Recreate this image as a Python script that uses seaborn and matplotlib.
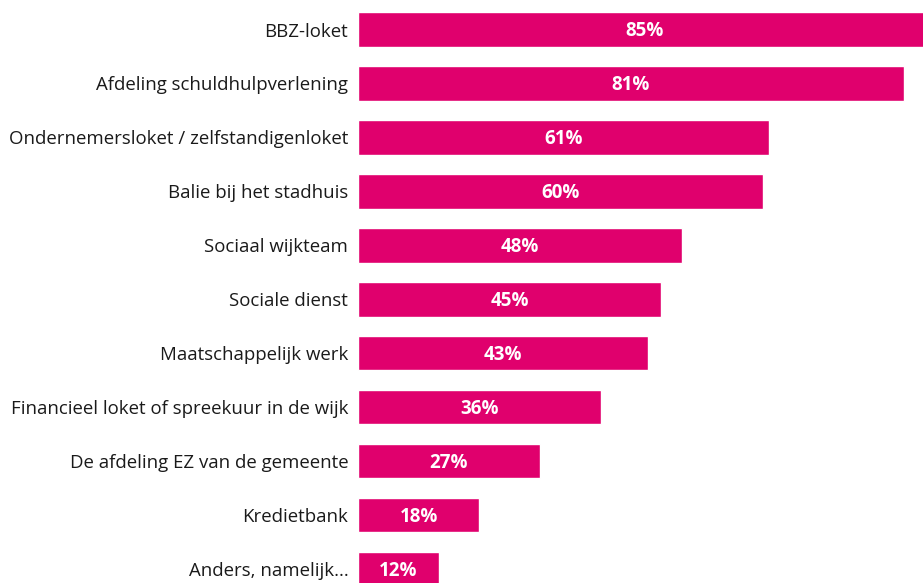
import matplotlib
matplotlib.use("Agg")
import matplotlib.pyplot as plt
import seaborn as sns
import pandas as pd

categories = [
    "BBZ-loket",
    "Afdeling schuldhulpverlening",
    "Ondernemersloket / zelfstandigenloket",
    "Balie bij het stadhuis",
    "Sociaal wijkteam",
    "Sociale dienst",
    "Maatschappelijk werk",
    "Financieel loket of spreekuur in de wijk",
    "De afdeling EZ van de gemeente",
    "Kredietbank",
    "Anders, namelijk...",
]
values = [85, 81, 61, 60, 48, 45, 43, 36, 27, 18, 12]
value_labels = [f"{v}%" for v in values]

sns.set_theme(style="white")
plt.rcParams["font.family"] = ["Open Sans", "DejaVu Sans"]

df = pd.DataFrame({"categorie": categories, "percentage": values})

fig = plt.figure(figsize=(9.23, 5.83), dpi=100)
ax = fig.add_axes([358 / 923, 0, 1 - 358 / 923, 1])

sns.barplot(data=df, y="categorie", x="percentage", color="#E0006D",
            width=0.64, saturation=1, ax=ax, orient="h")

for i, (v, lab) in enumerate(zip(values, value_labels)):
    ax.text(v / 2, i + 0.03, lab, ha="center", va="center", color="white",
            fontsize=13.5, fontweight="bold")

ax.set_xlim(0, 83.8)
ax.set_ylim(10.26, -0.547)
ax.set_xlabel("")
ax.set_ylabel("")
ax.set_xticks([])
ax.tick_params(axis="y", length=0, pad=7, labelsize=13.4, labelcolor="#1a1a1a")
for lbl in ax.get_yticklabels():
    lbl.set_va("center_baseline")
for s in ax.spines.values():
    s.set_visible(False)

fig.savefig("out.png", dpi=100)
